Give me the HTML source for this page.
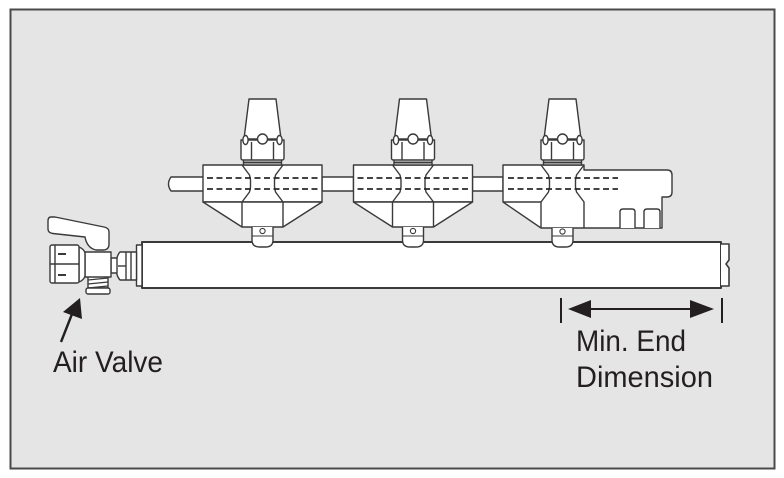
<!DOCTYPE html>
<html>
<head>
<meta charset="utf-8">
<style>
  html,body{margin:0;padding:0;background:#fff;}
  svg{display:block;}
  text{font-family:"Liberation Sans",sans-serif;fill:#231f20;}
</style>
</head>
<body>
<svg width="784" height="478" viewBox="0 0 784 478" xmlns="http://www.w3.org/2000/svg">
  <rect x="0" y="0" width="784" height="478" fill="#fff"/>
  <rect x="10.5" y="9.5" width="764" height="459" fill="#e5e5e6" stroke="#4a4a4a" stroke-width="2"/>

  <g fill="#fff" stroke="#3a3a3a" stroke-width="1.4" stroke-linejoin="round">
    <!-- rod -->
    <path d="M203,177 L171,177 Q166,184 171,191 L203,191" />
    <rect x="322" y="177" width="31.5" height="14" />
    <rect x="472.5" y="177" width="30.5" height="14" />

    <!-- main pipe -->
    <rect x="142" y="242" width="579" height="46" stroke-width="2"/>
    <path d="M721,244 L729,244 L729,260 L726,264 L729,268 L729,286 L721,286" stroke-width="1.6"/>

    <!-- Assembly 1 -->
    <g transform="translate(262.5,0)">
      <rect x="-59.5" y="165" width="119" height="37"/>
      <polygon points="-59.5,202 -20.5,227 20.5,227 59.5,202"/>
      <path d="M-20.5,165 L-13,175 L-12,180 L-12,187 L-13,192 L-20.5,202 L-20.5,227" fill="none"/>
      <path d="M20.5,165 L13,175 L12,180 L12,187 L13,192 L20.5,202 L20.5,227" fill="none"/>
      <line x1="-55.5" y1="178" x2="55.5" y2="178" stroke="#2a2a2a" stroke-dasharray="6 3.5" stroke-width="1.8"/>
      <line x1="-55.5" y1="189" x2="55.5" y2="189" stroke="#2a2a2a" stroke-dasharray="6 3.5" stroke-width="1.8"/>
      <path d="M-10.5,227 L-10.5,240 Q-10.5,247 -3,247 L3,247 Q10.5,247 10.5,240 L10.5,227"/>
      <line x1="-11" y1="236" x2="11" y2="236" stroke-width="1"/>
      <circle cx="0" cy="231" r="2.6" stroke-width="1.1"/>
      <rect x="-19" y="159" width="38" height="6"/>
      <line x1="-19" y1="162.5" x2="19" y2="162.5" stroke-width="2"/>
      <path d="M-21.5,140 L21.5,140 L21.5,158 Q21.5,160 19.5,160 L-19.5,160 Q-21.5,160 -21.5,158 Z"/>
      <line x1="-11" y1="142" x2="-11" y2="160"/>
      <line x1="11" y1="142" x2="11" y2="160"/>
      <polygon points="-13.5,99 13.5,99 18.5,139 -18.5,139"/>
      <ellipse cx="-17" cy="140" rx="2.6" ry="4.5"/>
      <ellipse cx="17" cy="140" rx="2.6" ry="4.5"/>
      <circle cx="0" cy="139" r="5"/>
    </g>

    <!-- Assembly 2 -->
    <g transform="translate(413,0)">
      <rect x="-59.5" y="165" width="119" height="37"/>
      <polygon points="-59.5,202 -20.5,227 20.5,227 59.5,202"/>
      <path d="M-20.5,165 L-13,175 L-12,180 L-12,187 L-13,192 L-20.5,202 L-20.5,227" fill="none"/>
      <path d="M20.5,165 L13,175 L12,180 L12,187 L13,192 L20.5,202 L20.5,227" fill="none"/>
      <line x1="-55.5" y1="178" x2="55.5" y2="178" stroke="#2a2a2a" stroke-dasharray="6 3.5" stroke-width="1.8"/>
      <line x1="-55.5" y1="189" x2="55.5" y2="189" stroke="#2a2a2a" stroke-dasharray="6 3.5" stroke-width="1.8"/>
      <path d="M-10.5,227 L-10.5,240 Q-10.5,247 -3,247 L3,247 Q10.5,247 10.5,240 L10.5,227"/>
      <line x1="-11" y1="236" x2="11" y2="236" stroke-width="1"/>
      <circle cx="0" cy="231" r="2.6" stroke-width="1.1"/>
      <rect x="-19" y="159" width="38" height="6"/>
      <line x1="-19" y1="162.5" x2="19" y2="162.5" stroke-width="2"/>
      <path d="M-21.5,140 L21.5,140 L21.5,158 Q21.5,160 19.5,160 L-19.5,160 Q-21.5,160 -21.5,158 Z"/>
      <line x1="-11" y1="142" x2="-11" y2="160"/>
      <line x1="11" y1="142" x2="11" y2="160"/>
      <polygon points="-13.5,99 13.5,99 18.5,139 -18.5,139"/>
      <ellipse cx="-17" cy="140" rx="2.6" ry="4.5"/>
      <ellipse cx="17" cy="140" rx="2.6" ry="4.5"/>
      <circle cx="0" cy="139" r="5"/>
    </g>

    <!-- Assembly 3 (end block) -->
    <g>
      <path d="M503,165 L584,165 L584,170 L667,170 Q672,170 672,175 L672,192 Q672,197 667,197 L662,197 L662,228 L541,228 L503,202 Z"/>
      <line x1="503" y1="202" x2="541" y2="202"/>
      <path d="M541,165 L548.5,175 L549.5,180 L549.5,187 L548.5,192 L541,202 L541,228" fill="none"/>
      <path d="M584,165 L576.5,175 L575.5,180 L575.5,187 L576.5,192 L584,202 L584,228" fill="none"/>
      <line x1="508" y1="178" x2="618" y2="178" stroke="#2a2a2a" stroke-dasharray="6 3.5" stroke-width="1.8"/>
      <line x1="508" y1="189" x2="618" y2="189" stroke="#2a2a2a" stroke-dasharray="6 3.5" stroke-width="1.8"/>
      <path d="M620,228 L620,212 Q620,209 623,209 L632,209 Q635,209 635,212 L635,228"/>
      <path d="M644,228 L644,212 Q644,209 647,209 L657,209 Q660,209 660,212 L660,228"/>
      <g transform="translate(562.5,0)">
        <path d="M-10.5,228 L-10.5,240 Q-10.5,247 -3,247 L3,247 Q10.5,247 10.5,240 L10.5,228"/>
        <line x1="-11" y1="236" x2="11" y2="236" stroke-width="1"/>
        <circle cx="0" cy="231.5" r="2.6" stroke-width="1.1"/>
        <rect x="-19" y="159" width="38" height="6"/>
        <line x1="-19" y1="162.5" x2="19" y2="162.5" stroke-width="2"/>
        <path d="M-21.5,140 L21.5,140 L21.5,158 Q21.5,160 19.5,160 L-19.5,160 Q-21.5,160 -21.5,158 Z"/>
        <line x1="-11" y1="142" x2="-11" y2="160"/>
        <line x1="11" y1="142" x2="11" y2="160"/>
        <polygon points="-13.5,99 13.5,99 18.5,139 -18.5,139"/>
        <ellipse cx="-17" cy="140" rx="2.6" ry="4.5"/>
        <ellipse cx="17" cy="140" rx="2.6" ry="4.5"/>
        <circle cx="0" cy="139" r="5"/>
      </g>
    </g>

    <!-- Air valve -->
    <rect x="136.5" y="245" width="5.5" height="41"/>
    <path d="M120,252 L136.5,252 L136.5,280 L120,280 Q116,276 116,266 Q116,256 120,252 Z"/>
    <line x1="118" y1="266" x2="126" y2="266"/>
    <line x1="126" y1="252" x2="126" y2="280"/>
    <line x1="131" y1="252" x2="131" y2="280"/>
    <rect x="111" y="258" width="6" height="15"/>
    <rect x="88" y="276" width="20" height="12"/>
    <path d="M88,280 L108,278 M88,284 L108,282 M88,288 L108,286" fill="none" stroke-width="1.2"/>
    <rect x="86" y="288" width="24" height="6" rx="2"/>
    <path d="M51,217 Q48,217 48,221 L48,229 Q48,233 53,233.5 L85,237 Q87,248 96,250 L103,250 Q109,250 109,244 L109,232 Q109,228 104,227 L55,217 Z"/>
    <rect x="85" y="252" width="26" height="25"/>
    <path d="M79,247 Q84,249 85,253 L85,276 Q84,280 79,282 Z"/>
    <rect x="50" y="245" width="29" height="38" rx="2"/>
    <line x1="55" y1="245" x2="55" y2="283"/>
    <line x1="50" y1="264" x2="79" y2="264"/>
    <line x1="58" y1="254" x2="66" y2="254" stroke-width="2"/>
    <line x1="58" y1="275" x2="66" y2="275" stroke-width="2"/>
  </g>

  <!-- Air valve arrow -->
  <line x1="61" y1="342" x2="72" y2="314" stroke="#231f20" stroke-width="2.4"/>
  <polygon points="80,298 63,312 82,319" fill="#231f20"/>
  <text x="53" y="372" font-size="30" textLength="110" lengthAdjust="spacingAndGlyphs">Air Valve</text>

  <!-- Dimension arrow -->
  <g stroke="#231f20" stroke-width="2">
    <line x1="561" y1="298" x2="561" y2="323"/>
    <line x1="722" y1="298" x2="722" y2="323"/>
    <line x1="588" y1="309" x2="692" y2="309"/>
  </g>
  <polygon points="568,309 591,300 591,318" fill="#231f20"/>
  <polygon points="714,309 690,300 690,318" fill="#231f20"/>
  <text x="576" y="351" font-size="29.5" textLength="110" lengthAdjust="spacingAndGlyphs">Min. End</text>
  <text x="576" y="387" font-size="29.5" textLength="137" lengthAdjust="spacingAndGlyphs">Dimension</text>
</svg>
</body>
</html>
